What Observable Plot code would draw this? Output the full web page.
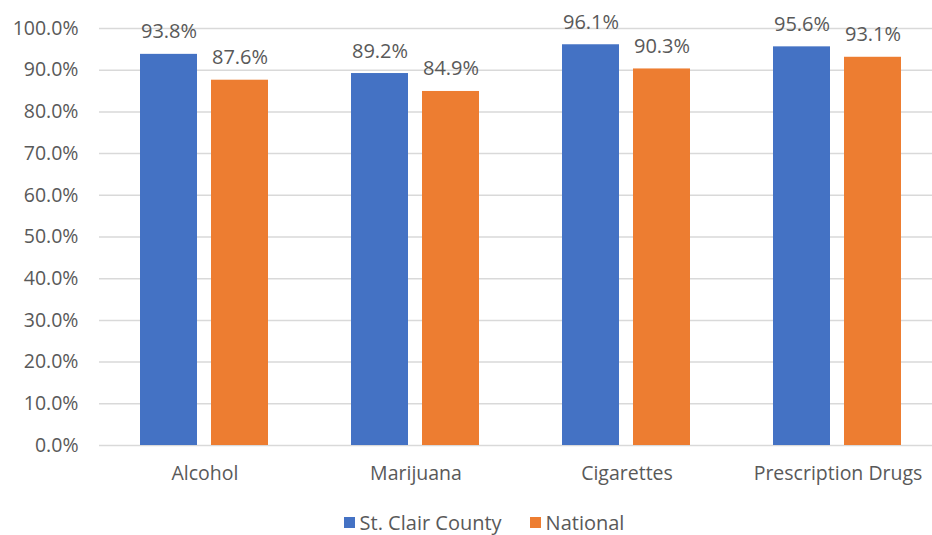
<!DOCTYPE html>
<html>
<head>
<meta charset="utf-8">
<script src="https://cdn.jsdelivr.net/npm/d3@7"></script>
<script src="https://cdn.jsdelivr.net/npm/@observablehq/plot@0.6"></script>
<style>
  html, body { margin: 0; padding: 0; background: #fff; }
  body { width: 932px; height: 535px; overflow: hidden; font-family: "Open Sans", sans-serif; }
  #chart { width: 932px; height: 495px; overflow: hidden; }
  #legend { display: flex; justify-content: center; gap: 28px; font-size: 20px; color: #595959; margin-top: 14px; padding-left: 36px; width: 896px; }
  #legend span.item { display: flex; align-items: center; gap: 5px; }
  #legend span.sw { width: 11px; height: 11px; display: inline-block; }
</style>
</head>
<body>
<div id="chart"></div>
<div id="legend"></div>
<script>
const categories = ["Alcohol", "Marijuana", "Cigarettes", "Prescription Drugs"];
const seriesNames = ["St. Clair County", "National"];
const stClair = [93.8, 89.2, 96.1, 95.6];
const national = [87.6, 84.9, 90.3, 93.1];
const colors = ["#4472C4", "#ED7D31"];
const yTicks = [0, 10, 20, 30, 40, 50, 60, 70, 80, 90, 100];

const data = [];
categories.forEach((c, i) => {
  data.push({category: c, series: seriesNames[0], value: stClair[i]});
  data.push({category: c, series: seriesNames[1], value: national[i]});
});

const chart = Plot.plot({
  width: 944,
  height: 495,
  marginLeft: 99,
  marginRight: 1,
  marginTop: 28,
  marginBottom: 50,
  style: {fontFamily: "Open Sans, sans-serif", fontSize: "19.5px", color: "#595959", background: "#fff", maxWidth: "none"},
  fx: {domain: categories, padding: 0, axis: "bottom", label: null, tickSize: 0, tickPadding: 21},
  x: {domain: seriesNames, paddingInner: 0.197, paddingOuter: 0.584, axis: null},
  y: {domain: [0, 100], ticks: yTicks, tickFormat: d => d.toFixed(1) + "%", tickSize: 0, tickPadding: 21, label: null},
  color: {domain: seriesNames, range: colors},
  marks: [
    Plot.ruleY(yTicks, {stroke: "#d9d9d9", strokeWidth: 1.5}),
    Plot.barY(data, {fx: "category", x: "series", y: "value", fill: "series"}),
    Plot.text(data, {fx: "category", x: "series", y: "value", text: d => d.value.toFixed(1) + "%", lineAnchor: "bottom", dy: -16, fill: "#595959", fontSize: 20})
  ]
});
chart.style.display = "block";
chart.style.maxWidth = "none";
document.getElementById("chart").appendChild(chart);

const legend = document.getElementById("legend");
seriesNames.forEach((s, i) => {
  const item = document.createElement("span");
  item.className = "item";
  const sw = document.createElement("span");
  sw.className = "sw";
  sw.style.background = colors[i];
  item.appendChild(sw);
  item.appendChild(document.createTextNode(s));
  legend.appendChild(item);
});
</script>
</body>
</html>
